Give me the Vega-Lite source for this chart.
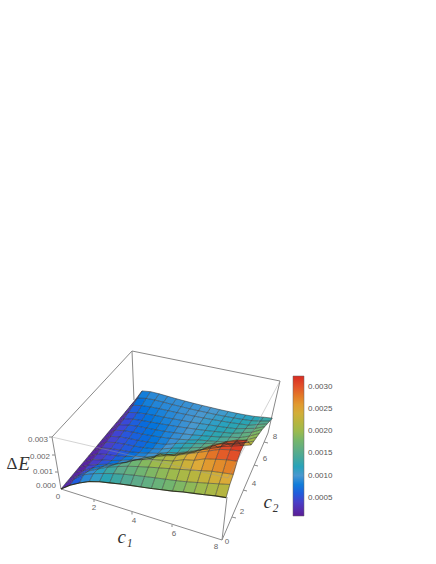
{"$schema":"https://vega.github.io/schema/vega-lite/v6.json","width":436,"height":564,"padding":0,"autosize":{"type":"fit","contains":"padding"},"background":"white","view":{"stroke":null},
"datasets":{
"grid":[
{"c1":0,"c2":8,"dE":0.00003},{"c1":0.5,"c2":8,"dE":0.0008},{"c1":1,"c2":8,"dE":0.0009},{"c1":1.5,"c2":8,"dE":0.00092},{"c1":2,"c2":8,"dE":0.00092},{"c1":2.5,"c2":8,"dE":0.00092},{"c1":3,"c2":8,"dE":0.00093},{"c1":3.5,"c2":8,"dE":0.00094},{"c1":4,"c2":8,"dE":0.00096},{"c1":4.5,"c2":8,"dE":0.00098},{"c1":5,"c2":8,"dE":0.001},{"c1":5.5,"c2":8,"dE":0.00103},{"c1":6,"c2":8,"dE":0.00106},{"c1":6.5,"c2":8,"dE":0.0011},{"c1":7,"c2":8,"dE":0.00115},{"c1":7.5,"c2":8,"dE":0.00123},{"c1":8,"c2":8,"dE":0.0013},
{"c1":0,"c2":7.5,"dE":0.00003},{"c1":0.5,"c2":7.5,"dE":0.0007},{"c1":1,"c2":7.5,"dE":0.00083},{"c1":1.5,"c2":7.5,"dE":0.00088},{"c1":2,"c2":7.5,"dE":0.0009},{"c1":2.5,"c2":7.5,"dE":0.00091},{"c1":3,"c2":7.5,"dE":0.00093},{"c1":3.5,"c2":7.5,"dE":0.00095},{"c1":4,"c2":7.5,"dE":0.00098},{"c1":4.5,"c2":7.5,"dE":0.00101},{"c1":5,"c2":7.5,"dE":0.00104},{"c1":5.5,"c2":7.5,"dE":0.00108},{"c1":6,"c2":7.5,"dE":0.00112},{"c1":6.5,"c2":7.5,"dE":0.00117},{"c1":7,"c2":7.5,"dE":0.00123},{"c1":7.5,"c2":7.5,"dE":0.00133},{"c1":8,"c2":7.5,"dE":0.00145},
{"c1":0,"c2":7,"dE":0.00002},{"c1":0.5,"c2":7,"dE":0.0006},{"c1":1,"c2":7,"dE":0.00073},{"c1":1.5,"c2":7,"dE":0.0008},{"c1":2,"c2":7,"dE":0.00085},{"c1":2.5,"c2":7,"dE":0.00088},{"c1":3,"c2":7,"dE":0.00091},{"c1":3.5,"c2":7,"dE":0.00095},{"c1":4,"c2":7,"dE":0.00099},{"c1":4.5,"c2":7,"dE":0.00103},{"c1":5,"c2":7,"dE":0.00108},{"c1":5.5,"c2":7,"dE":0.00113},{"c1":6,"c2":7,"dE":0.00118},{"c1":6.5,"c2":7,"dE":0.00124},{"c1":7,"c2":7,"dE":0.0013},{"c1":7.5,"c2":7,"dE":0.00145},{"c1":8,"c2":7,"dE":0.0016},
{"c1":0,"c2":6.5,"dE":0.00002},{"c1":0.5,"c2":6.5,"dE":0.0005},{"c1":1,"c2":6.5,"dE":0.00064},{"c1":1.5,"c2":6.5,"dE":0.00072},{"c1":2,"c2":6.5,"dE":0.00078},{"c1":2.5,"c2":6.5,"dE":0.00083},{"c1":3,"c2":6.5,"dE":0.00088},{"c1":3.5,"c2":6.5,"dE":0.00093},{"c1":4,"c2":6.5,"dE":0.00098},{"c1":4.5,"c2":6.5,"dE":0.00104},{"c1":5,"c2":6.5,"dE":0.0011},{"c1":5.5,"c2":6.5,"dE":0.00116},{"c1":6,"c2":6.5,"dE":0.00122},{"c1":6.5,"c2":6.5,"dE":0.00129},{"c1":7,"c2":6.5,"dE":0.00142},{"c1":7.5,"c2":6.5,"dE":0.00155},{"c1":8,"c2":6.5,"dE":0.00175},
{"c1":0,"c2":6,"dE":0.00002},{"c1":0.5,"c2":6,"dE":0.00045},{"c1":1,"c2":6,"dE":0.00058},{"c1":1.5,"c2":6,"dE":0.00066},{"c1":2,"c2":6,"dE":0.00072},{"c1":2.5,"c2":6,"dE":0.00078},{"c1":3,"c2":6,"dE":0.00084},{"c1":3.5,"c2":6,"dE":0.0009},{"c1":4,"c2":6,"dE":0.00097},{"c1":4.5,"c2":6,"dE":0.00104},{"c1":5,"c2":6,"dE":0.00111},{"c1":5.5,"c2":6,"dE":0.00119},{"c1":6,"c2":6,"dE":0.00127},{"c1":6.5,"c2":6,"dE":0.00135},{"c1":7,"c2":6,"dE":0.0015},{"c1":7.5,"c2":6,"dE":0.00165},{"c1":8,"c2":6,"dE":0.0019},
{"c1":0,"c2":5.5,"dE":0.00002},{"c1":0.5,"c2":5.5,"dE":0.00042},{"c1":1,"c2":5.5,"dE":0.00056},{"c1":1.5,"c2":5.5,"dE":0.00065},{"c1":2,"c2":5.5,"dE":0.0007},{"c1":2.5,"c2":5.5,"dE":0.00075},{"c1":3,"c2":5.5,"dE":0.00081},{"c1":3.5,"c2":5.5,"dE":0.00088},{"c1":4,"c2":5.5,"dE":0.00096},{"c1":4.5,"c2":5.5,"dE":0.00104},{"c1":5,"c2":5.5,"dE":0.00114},{"c1":5.5,"c2":5.5,"dE":0.00123},{"c1":6,"c2":5.5,"dE":0.00133},{"c1":6.5,"c2":5.5,"dE":0.00145},{"c1":7,"c2":5.5,"dE":0.00155},{"c1":7.5,"c2":5.5,"dE":0.00175},{"c1":8,"c2":5.5,"dE":0.002},
{"c1":0,"c2":5,"dE":0.00002},{"c1":0.5,"c2":5,"dE":0.00042},{"c1":1,"c2":5,"dE":0.00055},{"c1":1.5,"c2":5,"dE":0.00062},{"c1":2,"c2":5,"dE":0.00067},{"c1":2.5,"c2":5,"dE":0.00073},{"c1":3,"c2":5,"dE":0.0008},{"c1":3.5,"c2":5,"dE":0.00088},{"c1":4,"c2":5,"dE":0.00097},{"c1":4.5,"c2":5,"dE":0.00108},{"c1":5,"c2":5,"dE":0.00122},{"c1":5.5,"c2":5,"dE":0.0013},{"c1":6,"c2":5,"dE":0.0014},{"c1":6.5,"c2":5,"dE":0.0015},{"c1":7,"c2":5,"dE":0.00165},{"c1":7.5,"c2":5,"dE":0.00185},{"c1":8,"c2":5,"dE":0.0021},
{"c1":0,"c2":4.5,"dE":0.00002},{"c1":0.5,"c2":4.5,"dE":0.00038},{"c1":1,"c2":4.5,"dE":0.00051},{"c1":1.5,"c2":4.5,"dE":0.00058},{"c1":2,"c2":4.5,"dE":0.00063},{"c1":2.5,"c2":4.5,"dE":0.00069},{"c1":3,"c2":4.5,"dE":0.00077},{"c1":3.5,"c2":4.5,"dE":0.00086},{"c1":4,"c2":4.5,"dE":0.00105},{"c1":4.5,"c2":4.5,"dE":0.0012},{"c1":5,"c2":4.5,"dE":0.00132},{"c1":5.5,"c2":4.5,"dE":0.00145},{"c1":6,"c2":4.5,"dE":0.0016},{"c1":6.5,"c2":4.5,"dE":0.0017},{"c1":7,"c2":4.5,"dE":0.0018},{"c1":7.5,"c2":4.5,"dE":0.002},{"c1":8,"c2":4.5,"dE":0.0022},
{"c1":0,"c2":4,"dE":0.00001},{"c1":0.5,"c2":4,"dE":0.00036},{"c1":1,"c2":4,"dE":0.0005},{"c1":1.5,"c2":4,"dE":0.00057},{"c1":2,"c2":4,"dE":0.00062},{"c1":2.5,"c2":4,"dE":0.00069},{"c1":3,"c2":4,"dE":0.00078},{"c1":3.5,"c2":4,"dE":0.00092},{"c1":4,"c2":4,"dE":0.0011},{"c1":4.5,"c2":4,"dE":0.00125},{"c1":5,"c2":4,"dE":0.0014},{"c1":5.5,"c2":4,"dE":0.00155},{"c1":6,"c2":4,"dE":0.0017},{"c1":6.5,"c2":4,"dE":0.00185},{"c1":7,"c2":4,"dE":0.002},{"c1":7.5,"c2":4,"dE":0.00215},{"c1":8,"c2":4,"dE":0.0023},
{"c1":0,"c2":3.5,"dE":0.00001},{"c1":0.5,"c2":3.5,"dE":0.00034},{"c1":1,"c2":3.5,"dE":0.00047},{"c1":1.5,"c2":3.5,"dE":0.00055},{"c1":2,"c2":3.5,"dE":0.00061},{"c1":2.5,"c2":3.5,"dE":0.00072},{"c1":3,"c2":3.5,"dE":0.00085},{"c1":3.5,"c2":3.5,"dE":0.00098},{"c1":4,"c2":3.5,"dE":0.00118},{"c1":4.5,"c2":3.5,"dE":0.0013},{"c1":5,"c2":3.5,"dE":0.0015},{"c1":5.5,"c2":3.5,"dE":0.0017},{"c1":6,"c2":3.5,"dE":0.0019},{"c1":6.5,"c2":3.5,"dE":0.0021},{"c1":7,"c2":3.5,"dE":0.0024},{"c1":7.5,"c2":3.5,"dE":0.0026},{"c1":8,"c2":3.5,"dE":0.0027},
{"c1":0,"c2":3,"dE":0.00001},{"c1":0.5,"c2":3,"dE":0.00032},{"c1":1,"c2":3,"dE":0.00045},{"c1":1.5,"c2":3,"dE":0.00054},{"c1":2,"c2":3,"dE":0.00065},{"c1":2.5,"c2":3,"dE":0.00082},{"c1":3,"c2":3,"dE":0.00095},{"c1":3.5,"c2":3,"dE":0.00108},{"c1":4,"c2":3,"dE":0.0013},{"c1":4.5,"c2":3,"dE":0.00145},{"c1":5,"c2":3,"dE":0.0017},{"c1":5.5,"c2":3,"dE":0.0019},{"c1":6,"c2":3,"dE":0.0022},{"c1":6.5,"c2":3,"dE":0.0025},{"c1":7,"c2":3,"dE":0.0028},{"c1":7.5,"c2":3,"dE":0.003},{"c1":8,"c2":3,"dE":0.0031},
{"c1":0,"c2":2.5,"dE":0.00001},{"c1":0.5,"c2":2.5,"dE":0.0003},{"c1":1,"c2":2.5,"dE":0.00045},{"c1":1.5,"c2":2.5,"dE":0.00058},{"c1":2,"c2":2.5,"dE":0.00075},{"c1":2.5,"c2":2.5,"dE":0.00092},{"c1":3,"c2":2.5,"dE":0.00112},{"c1":3.5,"c2":2.5,"dE":0.0013},{"c1":4,"c2":2.5,"dE":0.0017},{"c1":4.5,"c2":2.5,"dE":0.0018},{"c1":5,"c2":2.5,"dE":0.002},{"c1":5.5,"c2":2.5,"dE":0.0022},{"c1":6,"c2":2.5,"dE":0.00245},{"c1":6.5,"c2":2.5,"dE":0.0028},{"c1":7,"c2":2.5,"dE":0.003},{"c1":7.5,"c2":2.5,"dE":0.0031},{"c1":8,"c2":2.5,"dE":0.0032},
{"c1":0,"c2":2,"dE":0.00001},{"c1":0.5,"c2":2,"dE":0.0003},{"c1":1,"c2":2,"dE":0.0005},{"c1":1.5,"c2":2,"dE":0.00068},{"c1":2,"c2":2,"dE":0.00088},{"c1":2.5,"c2":2,"dE":0.0011},{"c1":3,"c2":2,"dE":0.0014},{"c1":3.5,"c2":2,"dE":0.00165},{"c1":4,"c2":2,"dE":0.0019},{"c1":4.5,"c2":2,"dE":0.0021},{"c1":5,"c2":2,"dE":0.0022},{"c1":5.5,"c2":2,"dE":0.0024},{"c1":6,"c2":2,"dE":0.0026},{"c1":6.5,"c2":2,"dE":0.0028},{"c1":7,"c2":2,"dE":0.003},{"c1":7.5,"c2":2,"dE":0.0031},{"c1":8,"c2":2,"dE":0.00315},
{"c1":0,"c2":1.5,"dE":0.00001},{"c1":0.5,"c2":1.5,"dE":0.0003},{"c1":1,"c2":1.5,"dE":0.00062},{"c1":1.5,"c2":1.5,"dE":0.00086},{"c1":2,"c2":1.5,"dE":0.0011},{"c1":2.5,"c2":1.5,"dE":0.00138},{"c1":3,"c2":1.5,"dE":0.00165},{"c1":3.5,"c2":1.5,"dE":0.00185},{"c1":4,"c2":1.5,"dE":0.002},{"c1":4.5,"c2":1.5,"dE":0.0021},{"c1":5,"c2":1.5,"dE":0.0022},{"c1":5.5,"c2":1.5,"dE":0.0024},{"c1":6,"c2":1.5,"dE":0.0025},{"c1":6.5,"c2":1.5,"dE":0.0027},{"c1":7,"c2":1.5,"dE":0.0028},{"c1":7.5,"c2":1.5,"dE":0.0029},{"c1":8,"c2":1.5,"dE":0.00295},
{"c1":0,"c2":1,"dE":0.00001},{"c1":0.5,"c2":1,"dE":0.00035},{"c1":1,"c2":1,"dE":0.00075},{"c1":1.5,"c2":1,"dE":0.00103},{"c1":2,"c2":1,"dE":0.0013},{"c1":2.5,"c2":1,"dE":0.00148},{"c1":3,"c2":1,"dE":0.00165},{"c1":3.5,"c2":1,"dE":0.00178},{"c1":4,"c2":1,"dE":0.0019},{"c1":4.5,"c2":1,"dE":0.002},{"c1":5,"c2":1,"dE":0.0021},{"c1":5.5,"c2":1,"dE":0.0022},{"c1":6,"c2":1,"dE":0.0023},{"c1":6.5,"c2":1,"dE":0.0024},{"c1":7,"c2":1,"dE":0.0025},{"c1":7.5,"c2":1,"dE":0.00255},{"c1":8,"c2":1,"dE":0.0026},
{"c1":0,"c2":0.5,"dE":0.00001},{"c1":0.5,"c2":0.5,"dE":0.00045},{"c1":1,"c2":0.5,"dE":0.00085},{"c1":1.5,"c2":0.5,"dE":0.00108},{"c1":2,"c2":0.5,"dE":0.00125},{"c1":2.5,"c2":0.5,"dE":0.0014},{"c1":3,"c2":0.5,"dE":0.00152},{"c1":3.5,"c2":0.5,"dE":0.00162},{"c1":4,"c2":0.5,"dE":0.0017},{"c1":4.5,"c2":0.5,"dE":0.00178},{"c1":5,"c2":0.5,"dE":0.00185},{"c1":5.5,"c2":0.5,"dE":0.00192},{"c1":6,"c2":0.5,"dE":0.002},{"c1":6.5,"c2":0.5,"dE":0.0021},{"c1":7,"c2":0.5,"dE":0.0022},{"c1":7.5,"c2":0.5,"dE":0.0023},{"c1":8,"c2":0.5,"dE":0.0024},
{"c1":0,"c2":0,"dE":0},{"c1":0.5,"c2":0,"dE":0.0004},{"c1":1,"c2":0,"dE":0.0007},{"c1":1.5,"c2":0,"dE":0.00095},{"c1":2,"c2":0,"dE":0.0011},{"c1":2.5,"c2":0,"dE":0.0012},{"c1":3,"c2":0,"dE":0.0013},{"c1":3.5,"c2":0,"dE":0.00138},{"c1":4,"c2":0,"dE":0.00145},{"c1":4.5,"c2":0,"dE":0.00152},{"c1":5,"c2":0,"dE":0.0016},{"c1":5.5,"c2":0,"dE":0.00168},{"c1":6,"c2":0,"dE":0.00178},{"c1":6.5,"c2":0,"dE":0.00185},{"c1":7,"c2":0,"dE":0.00192},{"c1":7.5,"c2":0,"dE":0.002},{"c1":8,"c2":0,"dE":0.00205}
],
"back":[
{"x":52,"y":437,"x2":132,"y2":351},{"x":132,"y":351,"x2":280,"y2":381},{"x":132,"y":351,"x2":134,"y2":400},{"x":280,"y":381,"x2":268,"y2":433},{"x":52,"y":437,"x2":61,"y2":489},{"x":61,"y":489,"x2":222,"y2":540},{"x":222,"y":540,"x2":268,"y2":433},{"x":222,"y":540,"x2":227,"y2":497},
{"x":94,"y":499.5,"x2":94,"y2":502},{"x":132,"y":512,"x2":132,"y2":514.5},{"x":172,"y":524.5,"x2":172,"y2":527},{"x":232,"y":517,"x2":236,"y2":518},{"x":243,"y":490,"x2":247,"y2":491},{"x":254,"y":465,"x2":258,"y2":466},{"x":264,"y":442,"x2":268,"y2":443},
{"x":52,"y":437,"x2":49,"y2":437},{"x":55,"y":455,"x2":52,"y2":455},{"x":58,"y":472,"x2":55,"y2":472}
],
"front":[{"x":52,"y":437,"x2":228,"y2":478},{"x":228,"y":478,"x2":280,"y2":381}],
"labels":[
{"x":48,"y":440,"t":"0.003"},{"x":50,"y":457,"t":"0.002"},{"x":53,"y":472,"t":"0.001"},{"x":56,"y":486,"t":"0.000"}
],
"ticks":[
{"x":58,"y":497,"t":"0"},{"x":94,"y":508,"t":"2"},{"x":134,"y":521,"t":"4"},{"x":174,"y":534,"t":"6"},{"x":216,"y":547,"t":"8"},
{"x":227,"y":542,"t":"0"},{"x":242,"y":512,"t":"2"},{"x":254,"y":484,"t":"4"},{"x":265,"y":459,"t":"6"},{"x":275,"y":437,"t":"8"}
],
"delta":[{"x":12,"y":464,"t":"Δ"}],
"titles":[{"x":24,"y":464,"t":"E"},{"x":125,"y":537,"t":"c₁"},{"x":271,"y":502,"t":"c₂"}]
},
"layer":[
{"data":{"name":"back"},"mark":{"type":"rule","color":"#8a8a8a","strokeWidth":1},"encoding":{"x":{"field":"x","type":"quantitative","scale":{"domain":[0,436],"nice":false,"zero":false},"axis":null},"y":{"field":"y","type":"quantitative","scale":{"domain":[564,0],"nice":false,"zero":false},"axis":null},"x2":{"field":"x2"},"y2":{"field":"y2"}}},
{"data":{"name":"grid"},
"transform":[
{"calculate":"[0,1,2,3]","as":"k"},{"flatten":["k"]},
{"calculate":"datum.c1-((datum.k==1||datum.k==2)?0.5:0)","as":"cellA"},
{"calculate":"datum.c2-((datum.k==2||datum.k==3)?0.5:0)","as":"cellB"},
{"filter":"datum.cellA>=0&&datum.cellA<8&&datum.cellB>=0&&datum.cellB<8"},
{"calculate":"datum.cellA+'_'+datum.cellB","as":"cell"},
{"joinaggregate":[{"op":"mean","field":"dE","as":"cellE"}],"groupby":["cell"]},
{"calculate":"datum.c1/8","as":"u"},{"calculate":"datum.c2/8","as":"v"},{"calculate":"datum.dE/0.003","as":"w"},
{"calculate":"(1-datum.u)*(1-datum.v)*61+datum.u*(1-datum.v)*222+datum.u*datum.v*268+(1-datum.u)*datum.v*134","as":"bx"},
{"calculate":"(1-datum.u)*(1-datum.v)*489+datum.u*(1-datum.v)*540+datum.u*datum.v*445+(1-datum.u)*datum.v*402","as":"by"},
{"calculate":"(1-datum.u)*(1-datum.v)*52+datum.u*(1-datum.v)*228+datum.u*datum.v*278+(1-datum.u)*datum.v*132","as":"tx"},
{"calculate":"(1-datum.u)*(1-datum.v)*437+datum.u*(1-datum.v)*478+datum.u*datum.v*383+(1-datum.u)*datum.v*351","as":"ty"},
{"calculate":"datum.bx+(datum.tx-datum.bx)*datum.w","as":"sx"},
{"calculate":"datum.by+(datum.ty-datum.by)*datum.w","as":"sy"}
],
"layer":[
{"mark":{"type":"line","strokeWidth":0,"interpolate":"linear"},
"encoding":{
"x":{"field":"sx","type":"quantitative","axis":null},
"y":{"field":"sy","type":"quantitative","axis":null},
"order":{"field":"k","type":"quantitative"},
"detail":{"field":"cell","type":"nominal"},
"fill":{"field":"cellE","type":"quantitative","scale":{"domain":[0.00009,0.0005,0.001,0.0015,0.002,0.0025,0.003,0.00324],"range":["#5a1d96","#3a48d8","#4a98d0","#5da98c","#9cba4e","#e0a93a","#e2522a","#d82a22"]},"legend":{"type":"gradient","orient":"none","legendX":293,"legendY":376,"title":null,"values":[0.0005,0.001,0.0015,0.002,0.0025,0.003],"format":".4f","gradientLength":140,"gradientThickness":11,"labelFont":"Liberation Sans","labelFontSize":8,"labelColor":"#555555","labelOffset":4,"gradientStrokeColor":"#666666","gradientStrokeWidth":0.5}}
}}
]},
{"data":{"name":"grid"},
"transform":[
{"calculate":"datum.c1/8","as":"u"},{"calculate":"datum.c2/8","as":"v"},{"calculate":"datum.dE/0.003","as":"w"},
{"calculate":"(1-datum.u)*(1-datum.v)*61+datum.u*(1-datum.v)*222+datum.u*datum.v*268+(1-datum.u)*datum.v*134","as":"bx"},
{"calculate":"(1-datum.u)*(1-datum.v)*489+datum.u*(1-datum.v)*540+datum.u*datum.v*445+(1-datum.u)*datum.v*402","as":"by"},
{"calculate":"(1-datum.u)*(1-datum.v)*52+datum.u*(1-datum.v)*228+datum.u*datum.v*278+(1-datum.u)*datum.v*132","as":"tx"},
{"calculate":"(1-datum.u)*(1-datum.v)*437+datum.u*(1-datum.v)*478+datum.u*datum.v*383+(1-datum.u)*datum.v*351","as":"ty"},
{"calculate":"datum.bx+(datum.tx-datum.bx)*datum.w","as":"sx"},
{"calculate":"datum.by+(datum.ty-datum.by)*datum.w","as":"sy"}
],
"layer":[
{"mark":{"type":"line","color":"#2a2a2a","strokeWidth":0.7,"opacity":0.75},"encoding":{"x":{"field":"sx","type":"quantitative","axis":null},"y":{"field":"sy","type":"quantitative","axis":null},"detail":{"field":"c1","type":"nominal"},"order":{"field":"c2","type":"quantitative"}}},
{"mark":{"type":"line","color":"#2a2a2a","strokeWidth":0.7,"opacity":0.75},"encoding":{"x":{"field":"sx","type":"quantitative","axis":null},"y":{"field":"sy","type":"quantitative","axis":null},"detail":{"field":"c2","type":"nominal"},"order":{"field":"c1","type":"quantitative"}}},
{"transform":[{"filter":"datum.c2==0"}],"mark":{"type":"line","color":"#23260f","strokeWidth":1.1,"opacity":0.8},"encoding":{"x":{"field":"sx","type":"quantitative","axis":null},"y":{"field":"sy","type":"quantitative","axis":null},"order":{"field":"c1","type":"quantitative"}}}
]},
{"data":{"name":"front"},"mark":{"type":"rule","color":"#9a9a9a","strokeWidth":0.8,"opacity":0.55},"encoding":{"x":{"field":"x","type":"quantitative","axis":null},"y":{"field":"y","type":"quantitative","axis":null},"x2":{"field":"x2"},"y2":{"field":"y2"}}},
{"data":{"name":"labels"},"mark":{"type":"text","font":"Liberation Sans","fontSize":8,"color":"#666666","align":"right","baseline":"middle"},"encoding":{"x":{"field":"x","type":"quantitative","axis":null},"y":{"field":"y","type":"quantitative","axis":null},"text":{"field":"t"}}},
{"data":{"name":"ticks"},"mark":{"type":"text","font":"Liberation Sans","fontSize":8,"color":"#666666","align":"center","baseline":"middle"},"encoding":{"x":{"field":"x","type":"quantitative","axis":null},"y":{"field":"y","type":"quantitative","axis":null},"text":{"field":"t"}}},
{"data":{"name":"delta"},"mark":{"type":"text","font":"Liberation Serif","fontSize":17,"color":"#333333","align":"center","baseline":"middle"},"encoding":{"x":{"field":"x","type":"quantitative","axis":null},"y":{"field":"y","type":"quantitative","axis":null},"text":{"field":"t"}}},
{"data":{"name":"titles"},"mark":{"type":"text","font":"Liberation Serif","fontStyle":"italic","fontSize":19,"color":"#333333","align":"center","baseline":"middle"},"encoding":{"x":{"field":"x","type":"quantitative","axis":null},"y":{"field":"y","type":"quantitative","axis":null},"text":{"field":"t"}}}
]}
